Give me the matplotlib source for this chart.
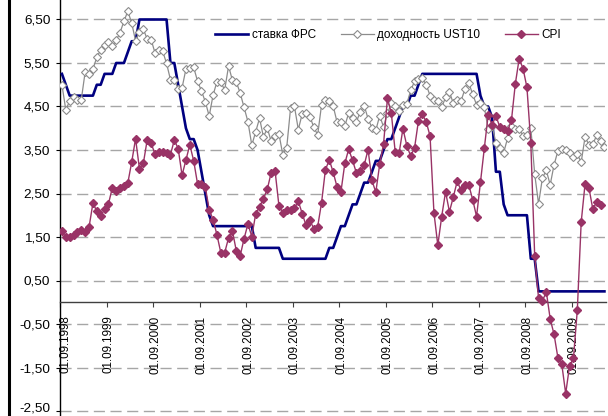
# ставка ФРС, доходность UST10 и CPI, помесячно с 09.1998
import matplotlib
matplotlib.use('Agg')
import matplotlib.pyplot as plt
import matplotlib.transforms as mtransforms
from matplotlib.lines import Line2D
import numpy as np

plt.rcParams['font.family'] = ['Liberation Sans', 'DejaVu Sans']

# Данные
fed = [5.25, 5.00, 4.75, 4.75, 4.75, 4.75, 4.75, 4.75, 4.75,
       5.00, 5.00, 5.25, 5.25, 5.25, 5.50, 5.50, 5.50, 5.75, 6.00, 6.00,
       6.50, 6.50, 6.50, 6.50, 6.50, 6.50, 6.50, 6.50,
       5.50, 5.50, 5.00, 4.50, 4.00, 3.75, 3.75, 3.50, 3.00, 2.50, 2.00, 1.75,
       1.75, 1.75, 1.75, 1.75, 1.75, 1.75, 1.75, 1.75, 1.75, 1.75,
       1.25, 1.25, 1.25, 1.25, 1.25, 1.25, 1.25,
       1.00, 1.00, 1.00, 1.00, 1.00, 1.00, 1.00, 1.00, 1.00, 1.00, 1.00, 1.00,
       1.25, 1.25, 1.50, 1.75, 1.75, 2.00, 2.25,
       2.25, 2.50, 2.75, 2.75, 3.00, 3.25, 3.25, 3.50, 3.75, 3.75, 4.00, 4.25,
       4.50, 4.50, 4.75, 4.75, 5.00,
       5.25, 5.25, 5.25, 5.25, 5.25, 5.25, 5.25, 5.25, 5.25, 5.25, 5.25, 5.25, 5.25, 5.25, 5.25,
       4.75, 4.50, 4.50, 4.25,
       3.00, 3.00, 2.25,
       2.00, 2.00, 2.00, 2.00, 2.00, 2.00,
       1.00, 1.00,
       0.25, 0.25, 0.25, 0.25, 0.25, 0.25, 0.25, 0.25, 0.25,
       0.25, 0.25, 0.25, 0.25, 0.25, 0.25, 0.25, 0.25, 0.25]

ust10 = [5.00, 4.42, 4.63, 4.72, 4.66, 4.66, 5.30, 5.24, 5.36, 5.63,
         5.80, 5.92, 5.98, 5.89, 6.02, 6.20, 6.46, 6.69, 6.42, 6.01,
         6.22, 6.28, 6.05, 6.04, 5.74, 5.81, 5.77, 5.49, 5.12, 5.11,
         4.91, 4.93, 5.36, 5.39, 5.40, 5.08, 4.86, 4.61, 4.28, 4.76,
         5.07, 5.06, 4.88, 5.43, 5.10, 5.06, 4.81, 4.48, 4.15, 3.61,
         3.92, 4.23, 3.80, 4.00, 3.70, 3.83, 3.87, 3.39, 3.55, 4.46,
         4.50, 3.97, 4.33, 4.34, 4.27, 4.02, 3.85, 4.54, 4.66, 4.62,
         4.51, 4.14, 4.15, 4.05, 4.35, 4.24, 4.15, 4.38, 4.52, 4.22,
         4.01, 3.95, 4.29, 4.03, 4.34, 4.57, 4.50, 4.40, 4.53, 4.56,
         4.87, 5.08, 5.13, 5.15, 5.00, 4.75, 4.65, 4.62, 4.48, 4.71,
         4.84, 4.57, 4.65, 4.63, 4.90, 5.04, 4.78, 4.54, 4.59, 4.48,
         3.98, 4.05, 3.67, 3.54, 3.44, 3.77, 4.06, 3.98, 3.98, 3.83,
         3.85, 4.01, 2.95, 2.26, 2.86, 3.03, 2.70, 3.16, 3.48, 3.52,
         3.50, 3.42, 3.35, 3.40, 3.22, 3.80, 3.62, 3.63, 3.84, 3.70,
         3.58]

cpi = [1.63, 1.49, 1.49, 1.55, 1.61, 1.67, 1.61, 1.73, 2.28, 2.09,
       1.98, 2.14, 2.26, 2.63, 2.56, 2.62, 2.68, 2.74, 3.22, 3.76,
       3.07, 3.19, 3.73, 3.66, 3.41, 3.45, 3.45, 3.44, 3.39, 3.73,
       3.53, 2.92, 3.27, 3.62, 3.25, 2.72, 2.72, 2.65, 2.13, 1.90,
       1.55, 1.14, 1.14, 1.48, 1.64, 1.18, 1.07, 1.46, 1.80, 1.51,
       2.03, 2.20, 2.38, 2.60, 2.98, 3.02, 2.22, 2.06, 2.11, 2.11,
       2.16, 2.32, 2.04, 1.77, 1.88, 1.69, 1.74, 2.29, 3.05, 3.27,
       2.99, 2.65, 2.54, 3.19, 3.52, 3.26, 2.97, 3.01, 3.15, 3.51,
       2.80, 2.53, 3.17, 3.64, 4.69, 4.35, 3.46, 3.42, 3.99, 3.60,
       3.36, 3.55, 4.17, 4.32, 4.15, 3.82, 2.06, 1.31, 1.97, 2.54,
       2.08, 2.42, 2.78, 2.57, 2.69, 2.69, 2.36, 1.97, 2.76, 3.54,
       4.31, 4.08, 4.28, 4.03, 3.98, 3.94, 4.18, 5.02, 5.60, 5.37,
       4.94, 3.66, 1.07, 0.09, 0.03, 0.24, -0.38, -0.74, -1.28, -1.43,
       -2.10, -1.46, -1.29, -0.18, 1.84, 2.72, 2.63, 2.14, 2.31, 2.24]

years = [1998, 1999, 2000, 2001, 2002, 2003, 2004, 2005, 2006, 2007, 2008, 2009]
tick_labels = ['01.09.%d' % y for y in years]
y_ticks = [-2.5, -1.5, -0.5, 0.5, 1.5, 2.5, 3.5, 4.5, 5.5, 6.5]

# Полотно 608x416
W, H = 608, 416
fig = plt.figure(figsize=(W / 100, H / 100), dpi=100)
n = len(fed)
px_per_unit = 43.5
zero_px = 302.25
ax = fig.add_axes([60 / W, 0, (n * 3.875) / W, 1])
ax.set_xlim(-0.5, n - 0.5)
ax.set_ylim((zero_px - H) / px_per_unit, zero_px / px_per_unit)

# Сетка пунктиром
for v in y_ticks:
    ax.axhline(v, color='#a6a6a6', lw=1.0, ls=(0, (8, 4)), zorder=1)

ax.plot(np.arange(len(fed)), fed, color='#000080', lw=1.9, zorder=3, label='ставка ФРС')
ax.plot(np.arange(len(ust10)), ust10, color='#8c8c8c', lw=0.9, marker='D', ms=3.6,
        mfc='white', mec='#8c8c8c', mew=0.8, zorder=4, label='доходность UST10')
ax.plot(np.arange(len(cpi)), cpi, color='#993366', lw=1.0, marker='D', ms=3.8,
        mfc='#993366', mec='#993366', zorder=5, label='CPI')

# Оси
for s in ['top', 'right']:
    ax.spines[s].set_visible(False)
ax.spines['left'].set_color('black')
ax.spines['left'].set_linewidth(1.0)
ax.spines['bottom'].set_position(('data', 0))
ax.spines['bottom'].set_color('#404040')
ax.spines['bottom'].set_linewidth(1.0)

ax.set_xticks([-0.5 + 12 * k for k in range(len(years))])
ax.set_xticklabels(tick_labels, rotation=90, fontsize=8.4, ha='center', va='top')
ax.tick_params(axis='x', direction='out', length=3.6, width=0.8, color='#404040', pad=6)

ax.set_yticks(y_ticks)
ax.set_yticklabels([('%.2f' % v).replace('.', ',') for v in y_ticks])
ax.tick_params(axis='y', direction='out', length=3, width=0.8, pad=4, labelsize=9.7)

# Небольшие сдвиги подписей, как в оригинале
for k, lbl in enumerate(ax.get_xticklabels()):
    dx = 4 if k == 0 else 1.5
    lbl.set_transform(lbl.get_transform() + mtransforms.ScaledTranslation(dx / 72, 0, fig.dpi_scale_trans))
ylbls = ax.get_yticklabels()
ylbls[0].set_transform(ylbls[0].get_transform() + mtransforms.ScaledTranslation(0, 3 / 72, fig.dpi_scale_trans))

ax.legend(loc='center left', bbox_to_anchor=(215 / W, 1 - 35 / H), bbox_transform=fig.transFigure,
          ncol=3, frameon=False, fontsize=8.5, handlelength=2.8, handletextpad=0.3,
          columnspacing=2.1, borderpad=0, borderaxespad=0, numpoints=1)

# Чёрная рамка слева
fig.add_artist(Line2D([8.5 / W, 8.5 / W], [0, 1], transform=fig.transFigure, color='black', lw=2.2))

fig.savefig('out.png', dpi=100)
plt.close()
